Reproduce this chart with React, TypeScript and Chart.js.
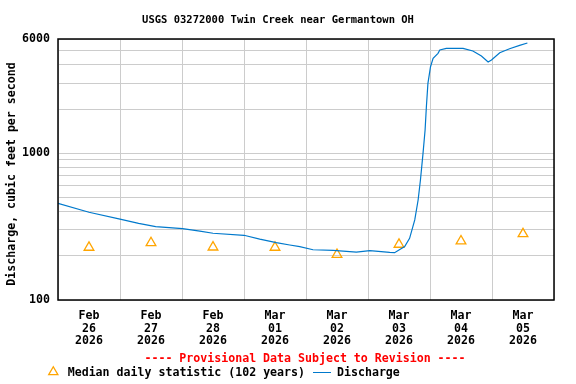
import React, { useEffect, useRef } from "react";
import { Chart, registerables } from "chart.js";

Chart.register(...registerables);

const TITLE = "USGS 03272000 Twin Creek near Germantown OH";
const Y_TITLE = "Discharge, cubic feet per second";
const PROVISIONAL = "---- Provisional Data Subject to Revision ----";
const MEDIAN_LABEL = "Median daily statistic (102 years)";
const DISCHARGE_LABEL = "Discharge";

// hours since 2026-02-26 00:00
const dischargeHours = [
  0, 12, 24, 31.2, 37.8, 48.2, 54.9, 60, 72, 78.1, 84.5, 89.7, 93.6, 98.7,
  106.5, 115.5, 120.7, 128.4, 130.3, 132.3, 134.2, 136.1, 138.1, 139.4, 140.3,
  141.3, 142.1, 142.6, 143.2, 144.2, 145.2, 147.1, 147.8, 150.3, 156.8, 160.6,
  163.9, 166.5, 167.8, 171.0, 174.8, 178.7, 181.7,
];
const dischargeValues = [
  456, 396, 356, 333, 316, 306, 295, 285, 276, 260, 246, 237, 231, 220,
  218, 212, 217, 211, 210, 221, 231, 263, 351, 480, 657,
  998, 1439, 2074, 2994, 3884, 4431, 4792, 5047, 5184, 5184, 4969,
  4594, 4182, 4314, 4837, 5151, 5433, 5633,
];

const medianHours = [12, 36, 60, 84, 108, 132, 156, 180];
const medianValues = [228, 245, 229, 228, 204, 239, 252, 282];

const tickMonths = ["Feb", "Feb", "Feb", "Mar", "Mar", "Mar", "Mar", "Mar"];
const tickDays = ["26", "27", "28", "01", "02", "03", "04", "05"];
const tickYear = "2026";

const yGridValues = [100, 200, 300, 400, 500, 600, 700, 800, 900, 1000, 2000, 3000, 4000, 5000, 6000];
const yLabelValues = [100, 1000, 6000];

const FONT = "'DejaVu Sans Mono', monospace";
const ORANGE = "#FFA500";
const BLUE = "#0079CC";
const GRID = "#CCCCCC";

export default function App() {
  const canvasRef = useRef<HTMLCanvasElement | null>(null);

  useEffect(() => {
    const canvas = canvasRef.current;
    if (!canvas) return;

    const textPlugin = {
      id: "usgsText",
      afterDraw(chart: any) {
        const ctx = chart.ctx as CanvasRenderingContext2D;
        const area = chart.chartArea;
        ctx.save();
        // border
        ctx.strokeStyle = "#000";
        ctx.lineWidth = 1.5;
        ctx.strokeRect(area.left, area.top, area.right - area.left, area.bottom - area.top);

        // title
        ctx.fillStyle = "#000";
        ctx.font = `bold 10.5px ${FONT}`;
        ctx.textAlign = "center";
        ctx.textBaseline = "middle";
        ctx.fillText(TITLE, 278, 20);

        // y title
        ctx.save();
        ctx.translate(12, 174);
        ctx.rotate(-Math.PI / 2);
        ctx.font = `bold 11.6px ${FONT}`;
        ctx.fillText(Y_TITLE, 0, 0);
        ctx.restore();

        // provisional
        ctx.font = `bold 11.6px ${FONT}`;
        ctx.fillStyle = "#FF0000";
        ctx.textAlign = "center";
        ctx.fillText(PROVISIONAL, 305, 359);

        // legend
        const tx = 53.3, ty = 372, r = 5.3;
        ctx.strokeStyle = ORANGE;
        ctx.lineWidth = 1.3;
        ctx.beginPath();
        ctx.moveTo(tx, ty - r);
        ctx.lineTo(tx + r * Math.sin((2 * Math.PI) / 3), ty + r / 2);
        ctx.lineTo(tx - r * Math.sin((2 * Math.PI) / 3), ty + r / 2);
        ctx.closePath();
        ctx.stroke();

        ctx.fillStyle = "#000";
        ctx.textAlign = "left";
        ctx.fillText(MEDIAN_LABEL, 67.7, 373);

        ctx.strokeStyle = BLUE;
        ctx.lineWidth = 1;
        ctx.beginPath();
        ctx.moveTo(313, 372.5);
        ctx.lineTo(331, 372.5);
        ctx.stroke();
        ctx.fillText(DISCHARGE_LABEL, 337, 373);
        ctx.restore();
      },
    };

    const chart = new Chart(canvas, {
      type: "line",
      data: {
        datasets: [
          {
            label: DISCHARGE_LABEL,
            data: dischargeHours.map((h, i) => ({ x: h, y: dischargeValues[i] })),
            borderColor: BLUE,
            borderWidth: 1.2,
            pointRadius: 0,
            tension: 0,
            fill: false,
          },
          {
            label: MEDIAN_LABEL,
            data: medianHours.map((h, i) => ({ x: h, y: medianValues[i] })),
            showLine: false,
            pointStyle: "triangle",
            pointRadius: 5.6,
            pointBorderColor: ORANGE,
            pointBackgroundColor: "rgba(0,0,0,0)",
            pointBorderWidth: 1.3,
            borderColor: ORANGE,
          },
        ],
      },
      options: {
        responsive: false,
        animation: false,
        layout: { padding: { left: 0, top: 39, right: 22, bottom: 0 } },
        plugins: {
          legend: { display: false },
          title: { display: false },
          tooltip: { enabled: false },
        },
        scales: {
          x: {
            type: "linear",
            min: 0,
            max: 192,
            afterFit(scale: any) {
              scale.height = 84;
            },
            afterBuildTicks(scale: any) {
              const t = [];
              for (let v = 0; v <= 192; v += 12) t.push({ value: v });
              scale.ticks = t;
            },
            grid: {
              color: (c: any) => (c.tick && c.tick.value % 24 === 0 ? GRID : "rgba(0,0,0,0)"),
              lineWidth: 1,
              drawTicks: false,
            },
            border: { display: false },
            ticks: {
              autoSkip: false,
              maxRotation: 0,
              padding: 9,
              color: "#000",
              font: { family: FONT, weight: "bold", size: 11.6, lineHeight: 1.12 },
              callback: (v: any) => {
                const n = Number(v);
                if (n % 24 !== 12) return "";
                const i = Math.floor(n / 24);
                return [tickMonths[i], tickDays[i], tickYear];
              },
            },
          },
          y: {
            type: "logarithmic",
            min: 100,
            max: 6000,
            afterFit(scale: any) {
              scale.width = 58;
            },
            afterBuildTicks(scale: any) {
              scale.ticks = yGridValues.map((v) => ({ value: v }));
            },
            grid: { color: GRID, lineWidth: 1, drawTicks: false },
            border: { display: false },
            ticks: {
              autoSkip: false,
              padding: 8,
              color: "#000",
              font: { family: FONT, weight: "bold", size: 11.6 },
              callback: (v: any) => (yLabelValues.includes(Number(v)) ? String(v) : ""),
            },
          },
        },
      },
      plugins: [textPlugin],
    } as any);

    return () => chart.destroy();
  }, []);

  return (
    <div style={{ position: "absolute", left: 0, top: 0, width: 576, height: 384, background: "#fff" }}>
      <canvas ref={canvasRef} width={576} height={384} style={{ width: 576, height: 384 }} />
    </div>
  );
}
